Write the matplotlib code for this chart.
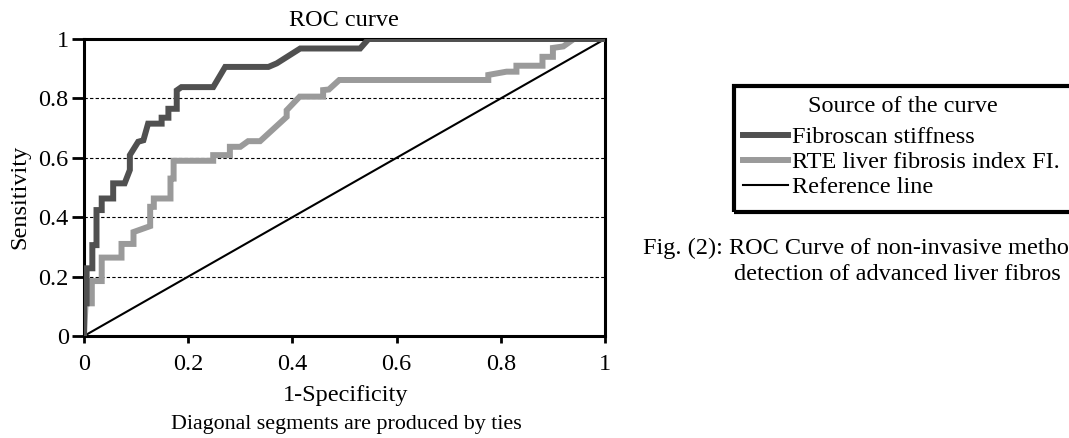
import matplotlib
matplotlib.use("Agg")
import matplotlib.pyplot as plt
from matplotlib.lines import Line2D
from matplotlib.patches import Rectangle

plt.rcParams['font.family'] = ['Liberation Serif', 'DejaVu Serif']

# ROC points (1-specificity, sensitivity)
fibroFpr = [0, 0, 0.005, 0.005, 0.016, 0.016, 0.024, 0.024, 0.034, 0.034, 0.056, 0.056,
            0.078, 0.088, 0.088, 0.104, 0.114, 0.123, 0.149, 0.149, 0.162, 0.162,
            0.178, 0.178, 0.187, 0.248, 0.271, 0.354, 0.37, 0.415, 0.53, 0.546, 1.0]
fibroTpr = [0, 0.11, 0.11, 0.228, 0.228, 0.306, 0.306, 0.424, 0.424, 0.463, 0.463, 0.514,
            0.514, 0.559, 0.609, 0.654, 0.659, 0.715, 0.715, 0.735, 0.735, 0.765,
            0.765, 0.827, 0.838, 0.838, 0.906, 0.906, 0.918, 0.968, 0.968, 1.0, 1.0]

rteFpr = [0, 0.003, 0.015, 0.015, 0.034, 0.034, 0.072, 0.072, 0.095, 0.095, 0.127, 0.127,
          0.134, 0.134, 0.166, 0.166, 0.172, 0.172, 0.248, 0.248, 0.28, 0.28, 0.30,
          0.315, 0.338, 0.389, 0.389, 0.414, 0.459, 0.459, 0.47, 0.49, 0.776, 0.776,
          0.811, 0.83, 0.83, 0.88, 0.88, 0.90, 0.90, 0.92, 0.94, 1.0]
rteTpr = [0, 0.11, 0.11, 0.185, 0.185, 0.264, 0.264, 0.31, 0.31, 0.35, 0.37, 0.435,
          0.435, 0.463, 0.463, 0.53, 0.53, 0.59, 0.59, 0.609, 0.609, 0.637, 0.637,
          0.656, 0.656, 0.738, 0.76, 0.806, 0.806, 0.828, 0.83, 0.862, 0.862, 0.879,
          0.89, 0.89, 0.91, 0.91, 0.94, 0.94, 0.97, 0.975, 1.0, 1.0]

refLine = [0, 1]
ticks = [0, 0.2, 0.4, 0.6, 0.8, 1]
tickLabels = ["0", "0.2", "0.4", "0.6", "0.8", "1"]

W, H = 1069, 438
fig = plt.figure(figsize=(W / 100, H / 100), dpi=100)
ax = fig.add_axes([84 / W, (H - 336) / H, (605 - 84) / W, (336 - 39) / H])

fs = 17.5
darkColor = "#505050"
lightColor = "#9a9a9a"

for g in [0.2, 0.4, 0.6, 0.8]:
    ax.axhline(g, color="black", lw=0.8, dashes=(3, 2), zorder=1)

ax.plot(rteFpr, rteTpr, color=lightColor, lw=4.3, zorder=3, solid_joinstyle="miter")
ax.plot(fibroFpr, fibroTpr, color=darkColor, lw=4.3, zorder=4, solid_joinstyle="miter")
ax.plot(refLine, refLine, color="black", lw=1.5, zorder=2)

ax.set_xlim(0, 1)
ax.set_ylim(0, 1)
ax.set_xticks(ticks)
ax.set_xticklabels(tickLabels)
ax.set_yticks(ticks)
ax.set_yticklabels(tickLabels)
ax.tick_params(axis="x", direction="out", length=5, width=2, labelsize=fs, pad=8)
ax.tick_params(axis="y", direction="out", length=9, width=2, labelsize=fs, pad=2)
for s in ax.spines.values():
    s.set_linewidth(2.2)
    s.set_color("black")

fig.text(344 / W, 1 - 20 / H, "ROC curve", ha="center", va="center", fontsize=fs)
fig.text(346 / W, 1 - 396 / H, "1-Specificity", ha="center", va="center", fontsize=fs)
fig.text(346 / W, 1 - 425 / H, "Diagonal segments are produced by ties",
         ha="center", va="center", fontsize=15.8)
fig.text(20 / W, 1 - 197 / H, "Sensitivity", ha="center", va="center",
         rotation=90, fontsize=fs)

# legend box runs past the right edge in the source, so it is drawn by hand
fig.patches.append(Rectangle((734 / W, 1 - 212 / H), 360 / W, 126 / H,
                             transform=fig.transFigure, fill=False,
                             edgecolor="black", lw=3))
fig.text(903 / W, 1 - 107 / H, "Source of the curve", ha="center", va="center", fontsize=fs)

handles = [Line2D([], [], color=darkColor, lw=4.3),
           Line2D([], [], color=lightColor, lw=4.3),
           Line2D([], [], color="black", lw=1.5)]
labels = ["Fibroscan stiffness", "RTE liver fibrosis index FI.", "Reference line"]
fig.legend(handles, labels, loc="upper left",
           bbox_to_anchor=(743 / W, 1 - 126 / H), fontsize=fs,
           frameon=False, handlelength=1.85, handletextpad=0.15,
           labelspacing=0.13, borderpad=0, borderaxespad=0)

fig.text(643 / W, 1 - 248 / H, "Fig. (2): ROC Curve of non-invasive metho",
         ha="left", va="center", fontsize=fs)
fig.text(734 / W, 1 - 275 / H, "detection of advanced liver fibros",
         ha="left", va="center", fontsize=fs)

fig.savefig("out.png", dpi=100)
